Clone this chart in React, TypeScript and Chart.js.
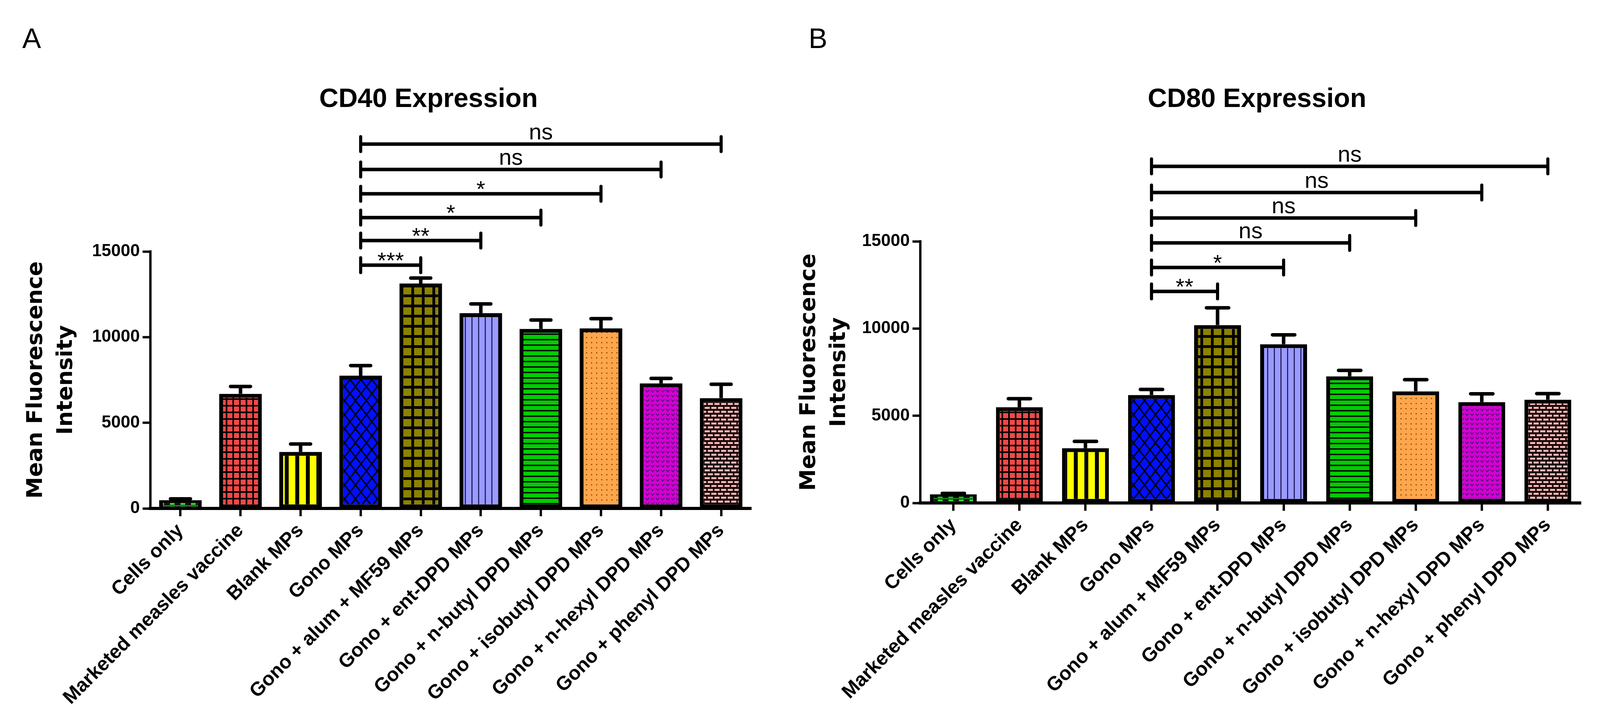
import React, { useEffect, useRef } from 'react';
import { Chart, registerables } from 'chart.js';

Chart.register(...registerables);

// ---------------- data ----------------
const categories = [
  'Cells only',
  'Marketed measles vaccine',
  'Blank MPs',
  'Gono MPs',
  'Gono + alum + MF59 MPs',
  'Gono + ent-DPD MPs',
  'Gono + n-butyl DPD MPs',
  'Gono + isobutyl DPD MPs',
  'Gono + n-hexyl DPD MPs',
  'Gono + phenyl DPD MPs',
];
const yTickValues = [0, 5000, 10000, 15000];

const cd40Means = [480, 6690, 3300, 7750, 13130, 11400, 10480, 10510, 7300, 6440];
const cd40Sem = [80, 430, 460, 590, 320, 540, 520, 570, 290, 810];
const cd80Means = [490, 5490, 3140, 6190, 10200, 9100, 7260, 6400, 5780, 5920];
const cd80Sem = [60, 490, 390, 320, 990, 540, 340, 670, 480, 350];

// significance comparisons against "Gono MPs"
const referenceIndex = 3;
const cd40CompareTo = [4, 5, 6, 7, 8, 9];
const cd40CompareLabels = ['***', '**', '*', '*', 'ns', 'ns'];
const cd40CompareLevels = [14200, 15640, 16980, 18370, 19790, 21270];
const cd80CompareTo = [4, 5, 6, 7, 8, 9];
const cd80CompareLabels = ['**', '*', 'ns', 'ns', 'ns', 'ns'];
const cd80CompareLevels = [12130, 13500, 14910, 16340, 17800, 19300];

// ---------------- styles ----------------
type PatternKind =
  | 'wave' | 'redGrid' | 'yellowStripe' | 'blueDiamond' | 'oliveGrid'
  | 'lavLines' | 'greenLines' | 'orangeDots' | 'magentaChevron' | 'pinkBrick';
const patternKinds: PatternKind[] = [
  'wave', 'redGrid', 'yellowStripe', 'blueDiamond', 'oliveGrid',
  'lavLines', 'greenLines', 'orangeDots', 'magentaChevron', 'pinkBrick',
];

function makePattern(kind: PatternKind): CanvasPattern | string {
  const c = document.createElement('canvas');
  let g: CanvasRenderingContext2D;
  const setup = (w: number, h: number, bg: string) => {
    c.width = w; c.height = h;
    g = c.getContext('2d') as CanvasRenderingContext2D;
    g.fillStyle = bg; g.fillRect(0, 0, w, h);
  };
  switch (kind) {
    case 'wave':
      setup(27, 9, '#111');
      g!.fillStyle = '#22E022';
      g!.fillRect(3, 1, 12, 5);
      g!.fillRect(0, 7, 27, 1.5);
      break;
    case 'redGrid':
      setup(17, 17, '#F24848');
      g!.fillStyle = '#000';
      g!.fillRect(0, 0, 4, 17);
      g!.fillRect(0, 0, 17, 4);
      break;
    case 'yellowStripe':
      setup(27, 4, '#FFFF00');
      g!.fillStyle = '#000';
      g!.fillRect(0, 0, 10, 4);
      break;
    case 'blueDiamond':
      setup(28, 36, '#0010FF');
      g!.strokeStyle = '#000';
      g!.lineWidth = 3.5;
      g!.beginPath();
      g!.moveTo(-1, -1.3); g!.lineTo(29, 37.3);
      g!.moveTo(29, -1.3); g!.lineTo(-1, 37.3);
      g!.stroke();
      break;
    case 'oliveGrid':
      setup(27, 26, '#8C8200');
      g!.fillStyle = '#000';
      g!.fillRect(0, 0, 7, 26);
      g!.fillRect(0, 0, 27, 7);
      break;
    case 'lavLines':
      setup(17, 4, '#9A9AFF');
      g!.fillStyle = '#101050';
      g!.fillRect(0, 0, 2.5, 4);
      break;
    case 'greenLines':
      setup(4, 14, '#00CC00');
      g!.fillStyle = '#000';
      g!.fillRect(0, 0, 4, 3.5);
      break;
    case 'orangeDots':
      setup(13, 13, '#FFA64D');
      g!.fillStyle = '#8B4A00';
      g!.beginPath(); g!.arc(6.5, 6.5, 1.7, 0, Math.PI * 2); g!.fill();
      break;
    case 'magentaChevron':
      setup(13, 12, '#D400D4');
      g!.strokeStyle = '#4A1A6E';
      g!.lineWidth = 2.2;
      g!.beginPath();
      g!.moveTo(2, 3); g!.lineTo(6.5, 8); g!.lineTo(11, 3);
      g!.stroke();
      break;
    case 'pinkBrick':
      setup(34, 20, '#1a0a0a');
      g!.fillStyle = '#FFB8B8';
      g!.fillRect(2, 2, 13, 5); g!.fillRect(19, 2, 13, 5);
      g!.fillRect(10, 12, 13, 5); g!.fillRect(27, 12, 7, 5); g!.fillRect(0, 12, 6, 5);
      break;
  }
  return g!.createPattern(c, 'repeat') as CanvasPattern;
}

const barBorders = categories.map((_, i) =>
  i === 0 ? { left: 10, right: 10, top: 6, bottom: 4 } : 10,
);

interface PanelDef {
  letter: string;
  title: string;
  means: number[];
  sem: number[];
  compareTo: number[];
  compareLabels: string[];
  compareLevels: number[];
  pageLeft: number;
  width: number;
  padRight: number;
  padTop: number;
  yWidth: number;
  xHeight: number;
  yTitlePad: number;
  titleX: number;
  letterX: number;
}

const HEIGHT = 1854;

const panels: PanelDef[] = [
  {
    letter: 'A', title: 'CD40 Expression', means: cd40Means, sem: cd40Sem,
    compareTo: cd40CompareTo, compareLabels: cd40CompareLabels, compareLevels: cd40CompareLevels,
    pageLeft: 0, width: 2020, padRight: 97, padTop: 644, yWidth: 385, xHeight: HEIGHT - 1302,
    yTitlePad: 54, titleX: 1097, letterX: 57,
  },
  {
    letter: 'B', title: 'CD80 Expression', means: cd80Means, sem: cd80Sem,
    compareTo: cd80CompareTo, compareLabels: cd80CompareLabels, compareLevels: cd80CompareLevels,
    pageLeft: 2020, width: 2097, padRight: 70, padTop: 618, yWidth: 336, xHeight: HEIGHT - 1288,
    yTitlePad: 13, titleX: 1198, letterX: 50,
  },
];

function makeAnnotations(p: PanelDef) {
  return {
    id: 'annotations',
    afterDatasetsDraw(chart: any) {
      const ctx: CanvasRenderingContext2D = chart.ctx;
      const meta = chart.getDatasetMeta(0);
      const ys = chart.scales.y;
      ctx.save();
      ctx.strokeStyle = '#000';
      ctx.lineWidth = 9;
      p.means.forEach((m, i) => {
        const bar = meta.data[i];
        const x = bar.x;
        const w = bar.width;
        const yBar = ys.getPixelForValue(m);
        const yTop = ys.getPixelForValue(m + p.sem[i]);
        ctx.lineCap = 'butt';
        ctx.beginPath(); ctx.moveTo(x, yBar); ctx.lineTo(x, yTop); ctx.stroke();
        ctx.lineCap = 'round';
        const half = w * 0.27 - 4;
        ctx.beginPath(); ctx.moveTo(x - half, yTop); ctx.lineTo(x + half, yTop); ctx.stroke();
      });
      ctx.restore();
    },
    afterDraw(chart: any) {
      const ctx: CanvasRenderingContext2D = chart.ctx;
      const xs = chart.scales.x;
      const ys = chart.scales.y;
      ctx.save();
      // significance brackets
      ctx.strokeStyle = '#000';
      ctx.fillStyle = '#000';
      const x0 = xs.getPixelForValue(referenceIndex);
      p.compareTo.forEach((idx, k) => {
        const x1 = xs.getPixelForValue(idx);
        const y = ys.getPixelForValue(p.compareLevels[k]);
        ctx.lineWidth = 9;
        ctx.lineCap = 'butt';
        ctx.beginPath(); ctx.moveTo(x0, y); ctx.lineTo(x1, y); ctx.stroke();
        ctx.lineCap = 'round';
        ctx.lineWidth = 8;
        ctx.beginPath();
        ctx.moveTo(x0, y - 19); ctx.lineTo(x0, y + 19);
        ctx.moveTo(x1, y - 19); ctx.lineTo(x1, y + 19);
        ctx.stroke();
        const label = p.compareLabels[k];
        ctx.font = '58px "Liberation Sans", Arial, sans-serif';
        ctx.textAlign = 'center';
        ctx.textBaseline = 'alphabetic';
        const isStars = /^\*+$/.test(label);
        ctx.fillText(label, (x0 + x1) / 2, isStars ? y + 8 : y - 12);
      });
      // chart title
      ctx.font = 'bold 68px "Liberation Sans", Arial, sans-serif';
      ctx.textAlign = 'center';
      ctx.textBaseline = 'alphabetic';
      ctx.fillText(p.title, p.titleX, 274);
      // panel letter
      ctx.font = '72px "Liberation Sans", Arial, sans-serif';
      ctx.textAlign = 'left';
      ctx.fillText(p.letter, p.letterX, 123);
      ctx.restore();
    },
  };
}

function Panel({ p }: { p: PanelDef }) {
  const ref = useRef<HTMLCanvasElement | null>(null);
  useEffect(() => {
    if (!ref.current) return;
    const chart = new Chart(ref.current, {
      type: 'bar',
      data: {
        labels: categories,
        datasets: [
          {
            data: p.means,
            backgroundColor: patternKinds.map(makePattern) as any,
            borderColor: '#000',
            borderWidth: barBorders as any,
            borderSkipped: false,
            barPercentage: 0.71,
            categoryPercentage: 1,
          },
        ],
      },
      options: {
        responsive: false,
        animation: false,
        devicePixelRatio: 1,
        layout: { padding: { left: 0, right: p.padRight, top: p.padTop, bottom: 0 } },
        plugins: {
          legend: { display: false },
          title: { display: false },
          tooltip: { enabled: false },
        },
        scales: {
          x: {
            type: 'category',
            offset: true,
            grid: {
              offset: false,
              drawOnChartArea: false,
              drawTicks: true,
              tickLength: 20,
              tickWidth: 6,
              tickColor: '#000',
            },
            border: { display: true, color: '#000', width: 8 },
            ticks: {
              autoSkip: false,
              maxRotation: 45,
              minRotation: 45,
              padding: 8,
              color: '#000',
              font: { family: '"Liberation Sans", Arial, sans-serif', size: 50, weight: 'bold' },
            },
            afterFit: (scale: any) => { scale.height = p.xHeight; },
          },
          y: {
            type: 'linear',
            min: 0,
            max: 15000,
            afterBuildTicks: (scale: any) => {
              scale.ticks = yTickValues.map((v) => ({ value: v }));
            },
            grid: {
              drawOnChartArea: false,
              drawTicks: true,
              tickLength: 20,
              tickWidth: 6,
              tickColor: '#000',
            },
            border: { display: true, color: '#000', width: 6 },
            ticks: {
              padding: 7,
              color: '#000',
              font: { family: '"Liberation Sans", Arial, sans-serif', size: 44, weight: 'bold' },
              callback: (v: any) => String(v),
            },
            title: {
              display: true,
              text: ['Mean Fluorescence', 'Intensity'],
              color: '#000',
              font: { family: '"DejaVu Sans", Verdana, sans-serif', size: 56, weight: 'bold', lineHeight: 1.38 },
              padding: { top: p.yTitlePad, bottom: 0 },
            },
            afterFit: (scale: any) => { scale.width = p.yWidth; },
          },
        },
      } as any,
      plugins: [makeAnnotations(p)],
    });
    return () => chart.destroy();
  }, [p]);
  return (
    <canvas
      ref={ref}
      width={p.width}
      height={HEIGHT}
      style={{ position: 'absolute', left: p.pageLeft, top: 0, width: p.width, height: HEIGHT }}
    />
  );
}

export default function App() {
  return (
    <div
      style={{
        position: 'absolute', left: 0, top: 0, width: 4117, height: HEIGHT,
        background: '#fff', overflow: 'hidden',
      }}
    >
      {panels.map((p) => (
        <Panel key={p.letter} p={p} />
      ))}
    </div>
  );
}
